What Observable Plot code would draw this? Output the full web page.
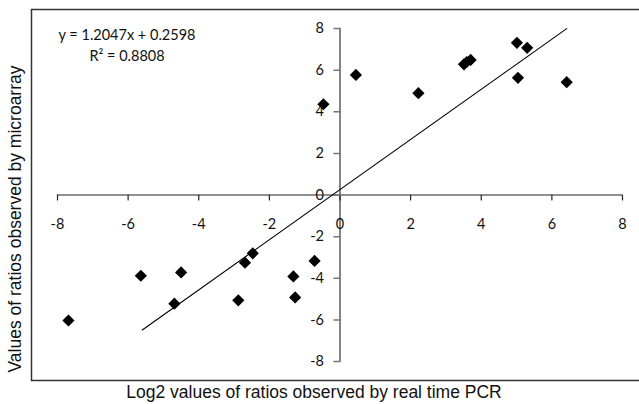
<!DOCTYPE html>
<html>
<head>
<meta charset="utf-8">
<script src="https://cdn.jsdelivr.net/npm/d3@7"></script>
<script src="https://cdn.jsdelivr.net/npm/@observablehq/plot@0.6"></script>
<style>
  html, body { margin: 0; padding: 0; background: #fff; overflow: hidden; }
  #chart svg { display: block; overflow: hidden; }
</style>
</head>
<body>
<div id="chart"></div>
<script>
// Data
const pcrLog2 = [-7.69, -5.64, -4.50, -4.69, -2.88, -2.69, -2.47, -1.32, -1.27, -0.72,
                 -0.47, 0.45, 2.22, 3.51, 3.59, 3.70, 5.01, 5.30, 5.04, 6.42];
const microarray = [-6.03, -3.88, -3.72, -5.22, -5.06, -3.25, -2.80, -3.91, -4.92, -3.17,
                    4.36, 5.77, 4.89, 6.28, 6.39, 6.49, 7.31, 7.07, 5.63, 5.42];
const slope = 1.2047;
const intercept = 0.2598;
const r2 = 0.8808;
const trendRange = [-5.6, 6.42];
const xTicks = [-8, -6, -4, -2, 0, 2, 4, 6, 8];
const yTicks = [-8, -6, -4, -2, 0, 2, 4, 6, 8];
const xTitle = "Log2 values of ratios observed by real time PCR";
const yTitle = "Values of ratios observed by microarray";

const points = pcrLog2.map((x, i) => ({x, y: microarray[i]}));
const trend = trendRange.map(x => ({x, y: slope * x + intercept}));

const tickLine = { draw(ctx, l) { ctx.moveTo(0, 0); ctx.lineTo(0, -l); } };
const tickFont = "Lato, 'Open Sans', sans-serif";
const titleFont = "'Liberation Sans', Arial, sans-serif";

const chart = Plot.plot({
  width: 639,
  height: 404,
  marginLeft: 57,
  marginRight: 17,
  marginTop: 28,
  marginBottom: 43,
  x: {domain: [-8, 8], axis: null},
  y: {domain: [-8, 8], axis: null},
  style: {fontFamily: tickFont, background: "#fff"},
  marks: [
    Plot.frame({insetLeft: -26, insetTop: -19, insetBottom: -19, insetRight: -40, stroke: "#333", strokeWidth: 1.5}),
    // axes through origin
    Plot.ruleY([0], {x1: xTicks[0], x2: xTicks[xTicks.length - 1], stroke: "#222", strokeWidth: 1.2}),
    Plot.ruleX([0], {y1: yTicks[0], y2: yTicks[yTicks.length - 1], stroke: "#777", strokeWidth: 1.8}),
    Plot.vector(xTicks, {x: d => d, y: 0, length: 5, rotate: 180, anchor: "start", shape: tickLine, stroke: "#222", strokeWidth: 1.2}),
    Plot.vector(yTicks, {x: 0, y: d => d, length: 6, rotate: 270, anchor: "start", shape: tickLine, stroke: "#777", strokeWidth: 1.5}),
    Plot.text(xTicks, {x: d => d, y: 0, text: d => String(d), dy: 29, fontSize: 14.5, fill: "#111", textAnchor: "middle"}),
    Plot.text(yTicks, {x: 0, y: d => d, text: d => String(d), dx: -16, fontSize: 14.5, fill: "#111", textAnchor: "end"}),
    // trend line
    Plot.line(trend, {x: "x", y: "y", stroke: "#000", strokeWidth: 1.1}),
    // points
    Plot.dot(points, {x: "x", y: "y", symbol: "diamond2", r: 5.5, fill: "#000", stroke: "none"}),
    // equation
    Plot.text([`y = ${slope}x + ${intercept}`], {frameAnchor: "top-left", text: d => d, dx: 69.5, dy: 7, fontSize: 14.5, fill: "#111", textAnchor: "middle", lineAnchor: "middle"}),
    Plot.text([`R² = ${r2}`], {frameAnchor: "top-left", text: d => d, dx: 69.5, dy: 28, fontSize: 14.5, fill: "#111", textAnchor: "middle", lineAnchor: "middle"}),
    // axis titles
    Plot.text([xTitle], {frameAnchor: "bottom", text: d => d, dx: -26, dy: 31, fontSize: 17.5, fontFamily: titleFont, fill: "#111", textAnchor: "middle", lineAnchor: "middle"}),
    Plot.text([yTitle], {frameAnchor: "left", text: d => d, dx: -42, dy: 24, rotate: -90, fontSize: 17.5, fontFamily: titleFont, fill: "#111", textAnchor: "middle", lineAnchor: "middle"})
  ]
});
document.getElementById("chart").append(chart);
</script>
</body>
</html>
